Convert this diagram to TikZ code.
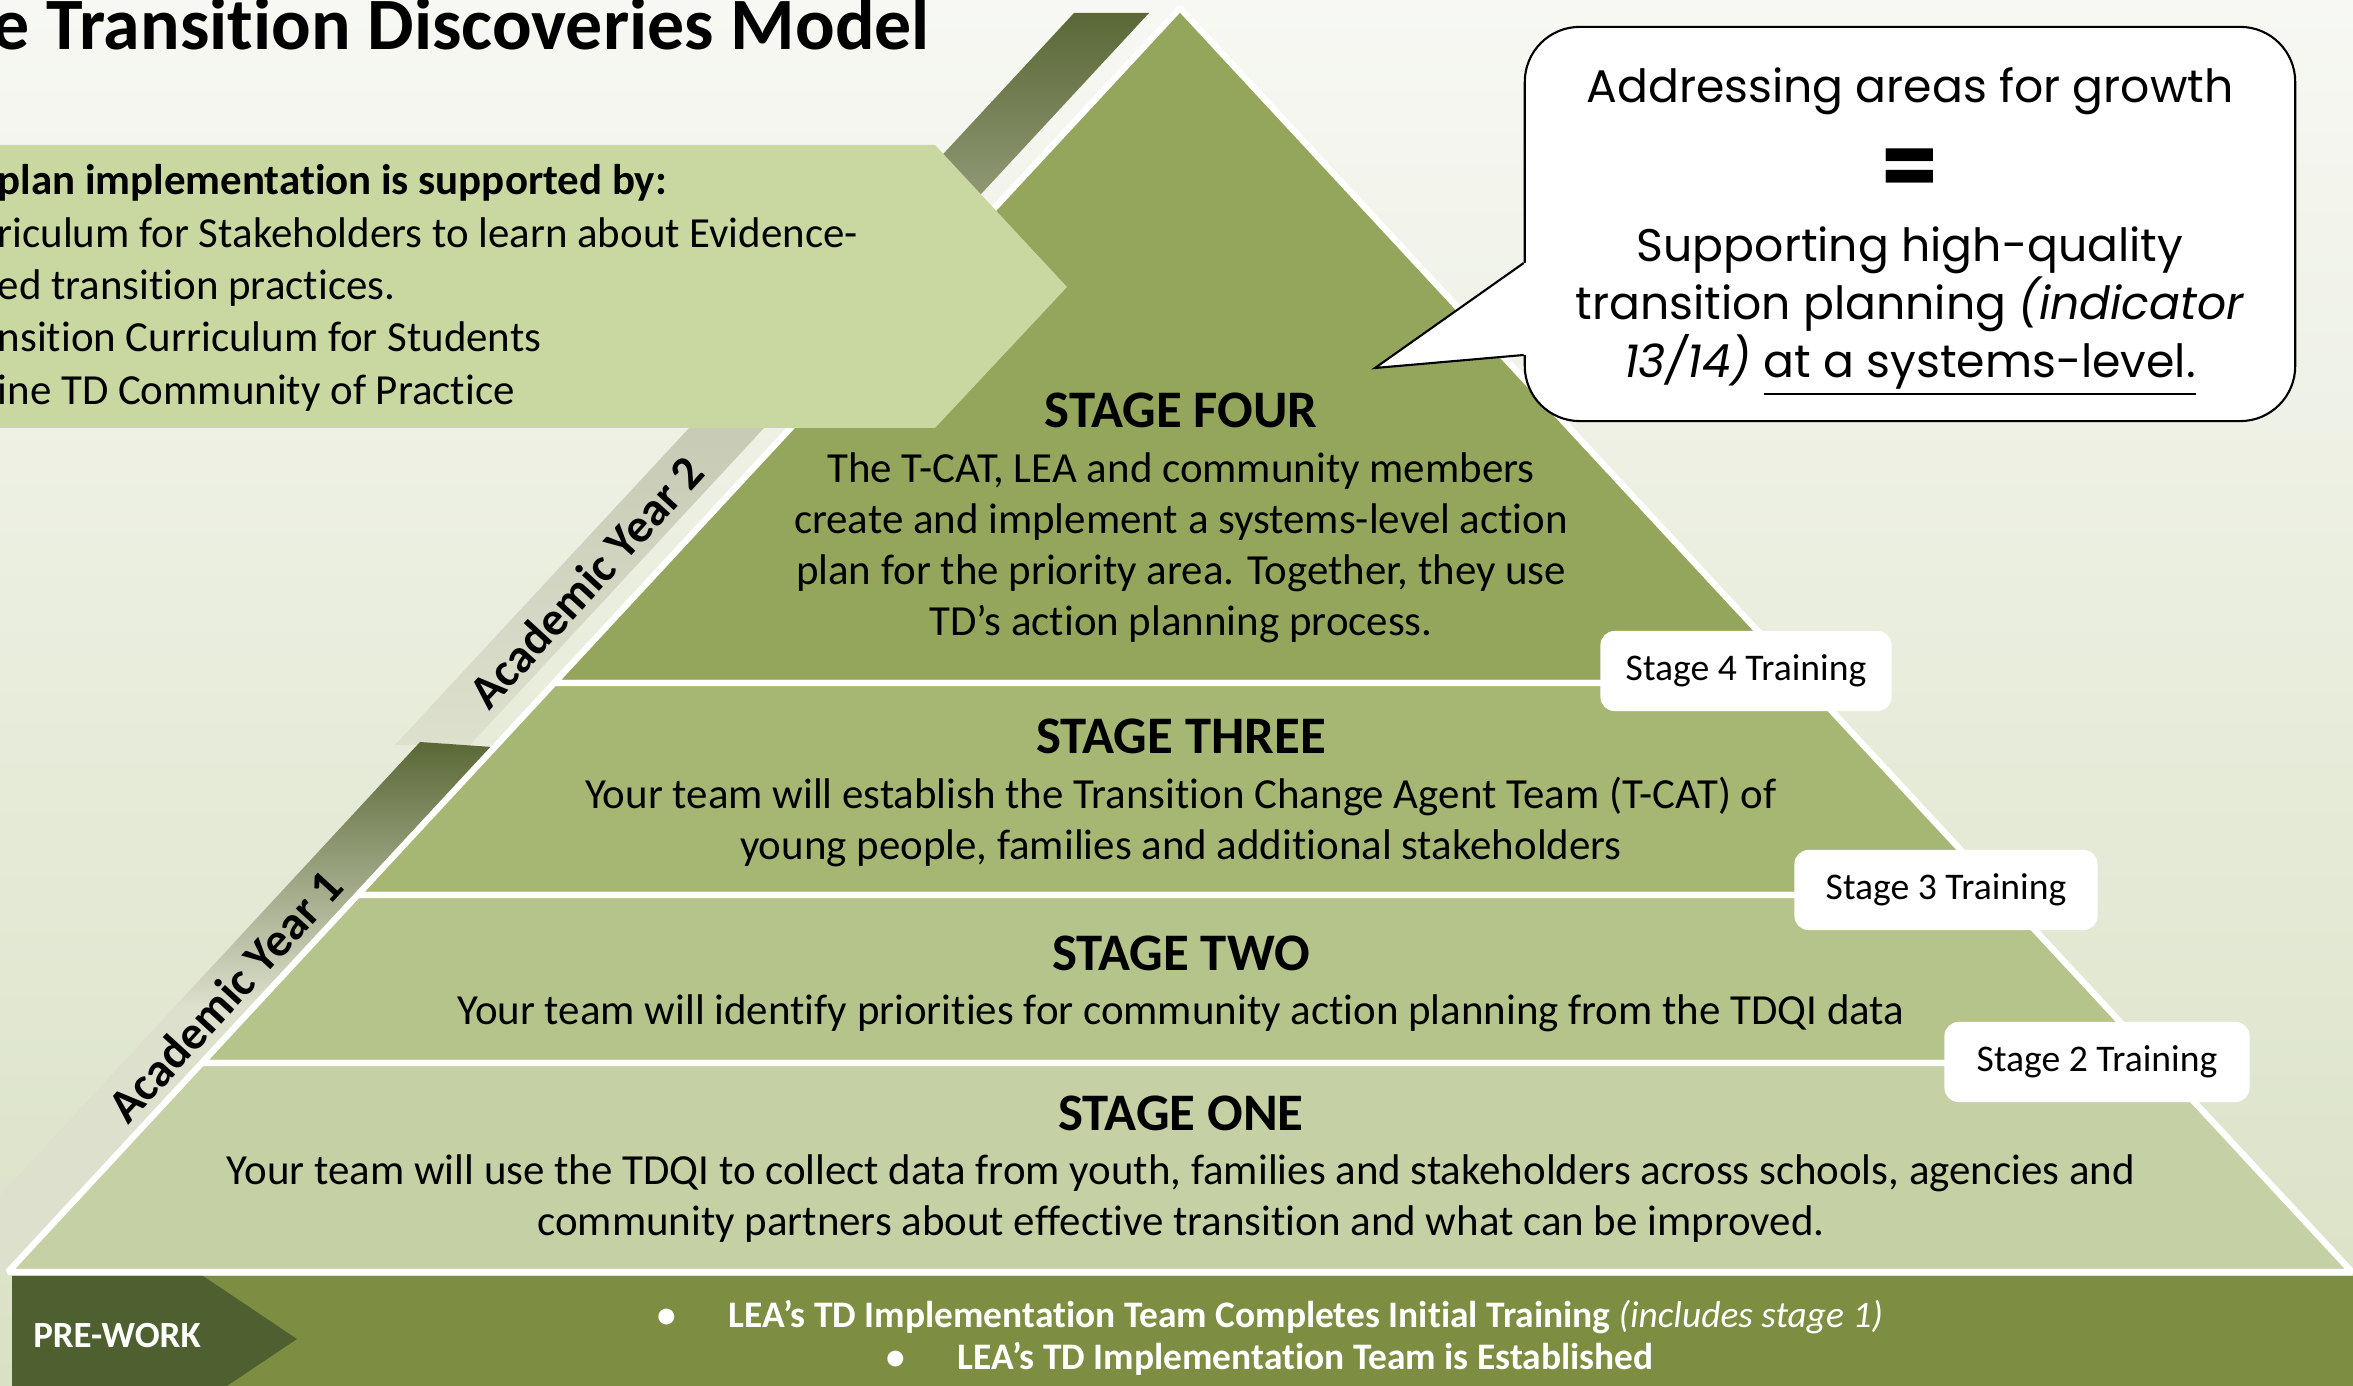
\documentclass[tikz,border=0pt]{standalone}
\usepackage{fontspec}
\setmainfont{Carlito}[Ligatures=NoCommon]
\newfontfamily\gothicfont{Poppins}
\usetikzlibrary{calc}

\definecolor{bgtop}{HTML}{F7F8F3}
\definecolor{bgbottom}{HTML}{D9E1C4}
\definecolor{stagefour}{HTML}{94A65B}
\definecolor{stagethree}{HTML}{A6B774}
\definecolor{stagetwo}{HTML}{B5C48B}
\definecolor{stageone}{HTML}{C5D1A5}
\definecolor{banner}{HTML}{C9D7A1}
\definecolor{bandtop}{HTML}{5A6836}
\definecolor{bandmid}{HTML}{C4C8B2}
\definecolor{bandlight}{HTML}{DCE0CD}
\definecolor{prework}{HTML}{7D8E42}
\definecolor{preworkdark}{HTML}{4F6030}

\begin{document}
\begin{tikzpicture}[x=0.01cm, y=-0.01cm,
    stage/.style={draw=white, line width=1.8pt, line join=bevel},
    stagetext/.style={align=center, font=\fontsize{12.2}{14.5}\selectfont},
    stagehead/.style={font=\fontsize{15}{17}\selectfont\bfseries},
    training/.style={fill=white, rounded corners=4pt, minimum height=0.8cm, font=\fontsize{10.7}{12}\selectfont},
    yearlabel/.style={rotate=47.5, font=\fontsize{13.5}{16}\selectfont\bfseries},
  ]
  \useasboundingbox (0,0) rectangle (2353,1386);
  \clip (0,0) rectangle (2353,1386);
  \shade[top color=bgtop, bottom color=bgbottom] (0,0) rectangle (2353,1386);

  % title
  \node[anchor=base west, inner sep=0pt, font=\fontsize{21}{24}\selectfont\bfseries] (title) at (-8,50) {e Transition Discoveries Model};

  % academic year bands
  \shade[top color=bandtop, bottom color=bandlight, middle color=bandmid] (1074,13) -- (1149,13) -- (470,745) -- (395,745) -- cycle;
  \shade[top color=bandtop, bottom color=bandlight, middle color=bandlight] (420,742) -- (492,747) -- (5,1272) -- (-71,1272) -- cycle;

  % pyramid
  \coordinate (apex)  at (1180,8);
  \coordinate (baseL) at (8,1272);
  \coordinate (baseR) at (2352,1272);
  \coordinate (l4) at ($(apex)!0.534!(baseL)$);
  \coordinate (r4) at ($(apex)!0.534!(baseR)$);
  \coordinate (l3) at ($(apex)!0.7017!(baseL)$);
  \coordinate (r3) at ($(apex)!0.7017!(baseR)$);
  \coordinate (l2) at ($(apex)!0.8346!(baseL)$);
  \coordinate (r2) at ($(apex)!0.8346!(baseR)$);
  \filldraw[stage, fill=stagefour]  (apex) -- (r4) -- (l4) -- cycle;
  \filldraw[stage, fill=stagethree] (l4) -- (r4) -- (r3) -- (l3) -- cycle;
  \filldraw[stage, fill=stagetwo]   (l3) -- (r3) -- (r2) -- (l2) -- cycle;
  \filldraw[stage, fill=stageone]   (l2) -- (r2) -- (baseR) -- (baseL) -- cycle;

  % side banner
  \fill[banner] (-5,145) -- (935,145) -- (1067,287) -- (935,428) -- (-5,428) -- cycle;
  \node[anchor=west, align=left, inner sep=0pt, font=\fontsize{12.2}{14.9}\selectfont] (support) at (-3,288)
    {\textbf{plan implementation is supported by:}\\
     riculum for Stakeholders to learn about Evidence-\\
     ed transition practices.\\
     nsition Curriculum for Students\\
     ine TD Community of Practice};

  % callout
  \node[draw, line width=0.6pt, fill=white, rounded corners=0.55cm, minimum width=7.7cm, minimum height=3.94cm] (callout) at (1910,224) {};
  \coordinate (ptip) at (1375,368);
  \fill[white] (ptip) -- ($(callout.west)+(0,39)$) -- ($(callout.west)+(4,39)$) -- ($(callout.west)+(4,131)$) -- ($(callout.west)+(0,131)$) -- cycle;
  \draw[line width=0.6pt] ($(callout.west)+(0,39)$) -- (ptip) -- ($(callout.west)+(0,131)$);
  \node[align=center, font=\gothicfont\fontsize{13}{16.5}\selectfont] (callouttext) at (1910,232)
    {Addressing areas for growth\\[8.6pt]
     {\fontsize{24}{24}\selectfont\bfseries =}\\[2.2pt]
     Supporting high-quality\\
     transition planning \textit{(indicator}\\
     \textit{13/14)} \underline{at a systems-level.}};

  % training labels
  \node[training, minimum width=2.91cm] (train4) at (1746,671)  {Stage 4 Training};
  \node[training, minimum width=3.03cm] (train3) at (1946,890)  {Stage 3 Training};
  \node[training, minimum width=3.05cm] (train2) at (2097,1062) {Stage 2 Training};

  % years
  \node[yearlabel] (year2) at (586,582) {Academic Year 2};
  \node[yearlabel] (year1) at (225,996) {Academic Year 1};

  % stages
  \node[stagetext] (stagefour) at (1181,518)
    {{\fontsize{15}{17}\selectfont\bfseries STAGE FOUR}\\[1pt]
     The T-CAT, LEA and community members\\
     create and implement a systems-level action\\
     plan for the priority area. Together, they use\\
     TD’s action planning process.};
  \node[stagetext] (stagethree) at (1181,793)
    {{\fontsize{15}{17}\selectfont\bfseries STAGE THREE}\\[1pt]
     Your team will establish the Transition Change Agent Team (T-CAT) of\\
     young people, families and additional stakeholders};
  \node[stagetext] (stagetwo) at (1181,984)
    {{\fontsize{15}{17}\selectfont\bfseries STAGE TWO}\\[1pt]
     Your team will identify priorities for community action planning from the TDQI data};
  \node[stagetext] (stageone) at (1181,1169)
    {{\fontsize{15}{17}\selectfont\bfseries STAGE ONE}\\[1pt]
     Your team will use the TDQI to collect data from youth, families and stakeholders across schools, agencies and\\
     community partners about effective transition and what can be improved.};

  % pre-work
  \fill[prework] (12,1276) rectangle (2353,1386);
  \fill[preworkdark] (12,1276) -- (203,1276) -- (297,1339) -- (203,1402) -- (12,1402) -- cycle;
  \node[white, font=\fontsize{10.5}{12}\selectfont\bfseries] (prelabel) at (117,1336) {PRE-WORK};
  \node[white, align=center, font=\fontsize{10.65}{11.9}\selectfont\bfseries] (prelist) at (1270,1338)
    {\textbullet\hspace{15pt}LEA’s TD Implementation Team Completes Initial Training \textmd{\textit{(includes stage 1)}}\\
     \textbullet\hspace{15pt}LEA’s TD Implementation Team is Established};
\end{tikzpicture}
\end{document}
